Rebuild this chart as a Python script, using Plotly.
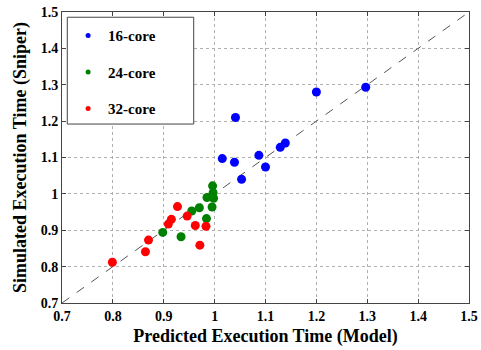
import plotly.graph_objects as go

# Predicted (Model) vs Simulated (Sniper)
x16 = [1.200, 1.297, 1.041, 1.015, 1.039, 1.087, 1.100, 1.053, 1.129, 1.139]
y16 = [1.280, 1.293, 1.210, 1.097, 1.087, 1.106, 1.074, 1.040, 1.128, 1.140]

x24 = [0.996, 0.997, 0.985, 0.998, 0.995, 0.984, 0.970, 0.955, 0.898, 0.934]
y24 = [1.022, 1.003, 0.990, 0.988, 0.964, 0.932, 0.962, 0.953, 0.894, 0.882]

x32 = [0.799, 0.864, 0.870, 0.909, 0.915, 0.927, 0.946, 0.962, 0.983, 0.971]
y32 = [0.812, 0.841, 0.873, 0.917, 0.930, 0.965, 0.939, 0.913, 0.911, 0.859]

labels = ["16-core", "24-core", "32-core"]
colors = ["#0000FF", "#008000", "#FF0000"]

tick_vals = [0.7, 0.8, 0.9, 1.0, 1.1, 1.2, 1.3, 1.4, 1.5]
tick_text = ["0.7", "0.8", "0.9", "1", "1.1", "1.2", "1.3", "1.4", "1.5"]
diag = [0.7, 1.5]

font_family = "Liberation Serif"

fig = go.Figure()

fig.add_trace(go.Scatter(x=diag, y=diag, mode="lines",
                         line=dict(color="#555555", width=1, dash="dash"),
                         showlegend=False, hoverinfo="skip"))

for xs, ys, c in zip([x16, x24, x32], [y16, y24, y32], colors):
    fig.add_trace(go.Scatter(x=xs, y=ys, mode="markers",
                             marker=dict(color=c, size=9, line=dict(width=0)),
                             showlegend=False))

for i, (lab, c) in enumerate(zip(labels, colors)):
    fig.add_trace(go.Scatter(x=[None], y=[None], mode="markers", name=lab,
                             legendgroup=f"g{i}",
                             marker=dict(color=c, size=5)))

axis_common = dict(
    range=[0.7, 1.5], tickvals=tick_vals, ticktext=tick_text,
    showgrid=True, gridcolor="#b0b0b0", griddash="dot", gridwidth=1,
    showline=True, linecolor="#444444", linewidth=1, mirror="ticks",
    ticks="inside", ticklen=4, tickcolor="#444444",
    tickfont=dict(family=font_family, size=14, color="black", weight="bold"),
    zeroline=False, automargin=False,
)

fig.update_xaxes(**axis_common,
                 title=dict(text="Predicted Execution Time (Model)", standoff=6,
                            font=dict(family=font_family, size=18, color="black", weight="bold")))
fig.update_yaxes(**axis_common,
                 title=dict(text="Simulated Execution Time (Sniper)", standoff=9,
                            font=dict(family=font_family, size=18, color="black", weight="bold")))

# legend frame (white box with border, drawn over the grid)
fig.add_shape(type="rect", xref="paper", yref="paper",
              x0=0.013, x1=0.3236, y0=0.615, y1=0.982,
              line=dict(color="#444444", width=1), fillcolor="white", layer="above")

fig.update_layout(
    width=481, height=350,
    margin=dict(l=62, r=12, t=12, b=47),
    plot_bgcolor="white", paper_bgcolor="white",
    legend=dict(x=0.015, y=0.975, xanchor="left", yanchor="top",
                bgcolor="rgba(0,0,0,0)", borderwidth=0,
                font=dict(family=font_family, size=15, color="black", weight="bold"),
                tracegroupgap=14),
)

fig.write_html("out.html")
